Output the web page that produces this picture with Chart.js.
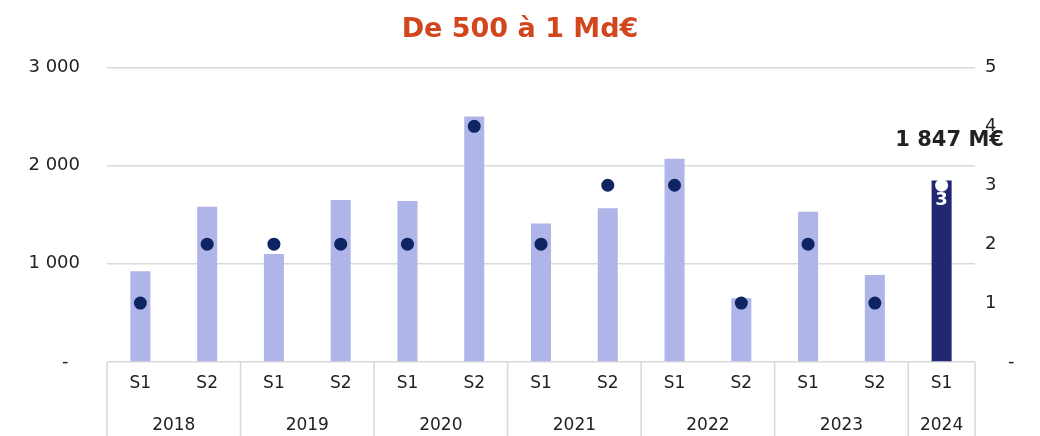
<!DOCTYPE html>
<html lang="fr">
<head>
    <meta charset="UTF-8">
    <title>De 500 à 1 Md€</title>
    <script src="https://cdn.jsdelivr.net/npm/chart.js"></script>
    <style>
        html, body { margin: 0; padding: 0; background: #fff; }
        #wrap { width: 1040px; height: 436px; }
    </style>
</head>
<body>
<div id="wrap"><canvas id="dealsChart"></canvas></div>
<script>
    // semesters and years (two-level x axis)
    const halves = ['S1', 'S2', 'S1', 'S2', 'S1', 'S2', 'S1', 'S2', 'S1', 'S2', 'S1', 'S2', 'S1'];
    const years = ['2018', '2019', '2020', '2021', '2022', '2023', '2024'];
    const yearCenters = [0.5, 2.5, 4.5, 6.5, 8.5, 10.5, 12];

    // amounts in M€ (left axis) and number of deals (right axis)
    const amounts = [925, 1580, 1100, 1650, 1640, 2500, 1410, 1565, 2070, 650, 1530, 885, 1847];
    const deals = [1, 2, 2, 2, 2, 4, 2, 3, 3, 1, 2, 1, 3];

    const FONT = "'DejaVu Sans', sans-serif";
    const light = '#AFB5E8';
    const navy = '#1F2870';
    const dot = '#0E2463';
    const last = amounts.length - 1;

    const fmt = v => String(v).replace(/\B(?=(\d{3})+(?!\d))/g, ' ');

    // year separators + last bar annotations
    const extras = {
        id: 'extras',
        afterDraw(chart) {
            const ctx = chart.ctx;
            const x = chart.scales.x;
            const area = chart.chartArea;
            const w = x.width / halves.length;
            ctx.save();
            ctx.strokeStyle = '#d9d9d9';
            ctx.lineWidth = 1.5;
            const edges = [];
            for (let i = 0; i < halves.length; i += 2) edges.push(x.getPixelForValue(i) - w / 2);
            edges.push(area.right);
            edges.forEach(px => {
                ctx.beginPath();
                ctx.moveTo(px, area.bottom);
                ctx.lineTo(px, chart.height);
                ctx.stroke();
            });

            const bar = chart.getDatasetMeta(0).data[last];
            ctx.fillStyle = '#222';
            ctx.font = 'bold 21px ' + FONT;
            ctx.textAlign = 'center';
            ctx.textBaseline = 'middle';
            ctx.fillText(fmt(amounts[last]) + ' M€', bar.x + 8, bar.y - 40);

            const pt = chart.getDatasetMeta(1).data[last];
            ctx.fillStyle = '#fff';
            ctx.font = 'bold 18px ' + FONT;
            ctx.fillText(String(deals[last]), pt.x, pt.y + 15);
            ctx.restore();
        }
    };

    new Chart(document.getElementById('dealsChart'), {
        data: {
            labels: halves,
            datasets: [
                {
                    type: 'bar',
                    data: amounts,
                    backgroundColor: amounts.map((v, i) => i === last ? navy : light),
                    barPercentage: 0.3,
                    categoryPercentage: 1,
                    yAxisID: 'y',
                    order: 2
                },
                {
                    type: 'line',
                    data: deals,
                    showLine: false,
                    pointRadius: 6.5,
                    pointBorderWidth: 0,
                    pointBackgroundColor: deals.map((v, i) => i === last ? '#fff' : dot),
                    yAxisID: 'y1',
                    order: 1
                }
            ]
        },
        options: {
            responsive: true,
            maintainAspectRatio: false,
            animation: false,
            layout: { padding: 0 },
            plugins: {
                legend: { display: false },
                tooltip: { enabled: false },
                title: {
                    display: true,
                    text: 'De 500 à 1 Md€',
                    color: '#D2461E',
                    font: { family: FONT, size: 27, weight: 'bold' },
                    padding: { top: 14, bottom: 21 }
                }
            },
            scales: {
                x: {
                    type: 'category',
                    position: 'bottom',
                    weight: 0,
                    grid: { display: false },
                    border: { display: false },
                    ticks: { color: '#222', font: { family: FONT, size: 17 }, padding: 3, maxRotation: 0 },
                    afterFit: axis => { axis.height = 40; }
                },
                x2: {
                    type: 'linear',
                    position: 'bottom',
                    weight: 1,
                    bounds: 'data',
                    min: -0.5,
                    max: halves.length - 0.5,
                    grid: { display: false },
                    border: { display: false },
                    afterBuildTicks: axis => { axis.ticks = yearCenters.map(v => ({ value: v })); },
                    ticks: {
                        autoSkip: false,
                        maxRotation: 0,
                        color: '#222',
                        font: { family: FONT, size: 17 },
                        padding: 5,
                        callback: (v, i) => years[i]
                    },
                    afterFit: axis => { axis.height = 34; }
                },
                y: {
                    position: 'left',
                    min: 0,
                    max: 3000,
                    ticks: {
                        stepSize: 1000,
                        color: '#222',
                        font: { family: FONT, size: 18 },
                        padding: 27,
                        callback: v => v === 0 ? '-  ' : fmt(v)
                    },
                    grid: { color: '#d9d9d9', lineWidth: 1.5, drawTicks: false },
                    border: { display: false },
                    afterFit: axis => { axis.width = 107; }
                },
                y1: {
                    position: 'right',
                    min: 0,
                    max: 5,
                    ticks: {
                        stepSize: 1,
                        color: '#222',
                        font: { family: FONT, size: 18 },
                        padding: 10,
                        callback: v => v === 0 ? '    -' : String(v)
                    },
                    grid: { drawOnChartArea: false, drawTicks: false },
                    border: { display: false },
                    afterFit: axis => { axis.width = 65; }
                }
            }
        },
        plugins: [extras]
    });
</script>
</body>
</html>
